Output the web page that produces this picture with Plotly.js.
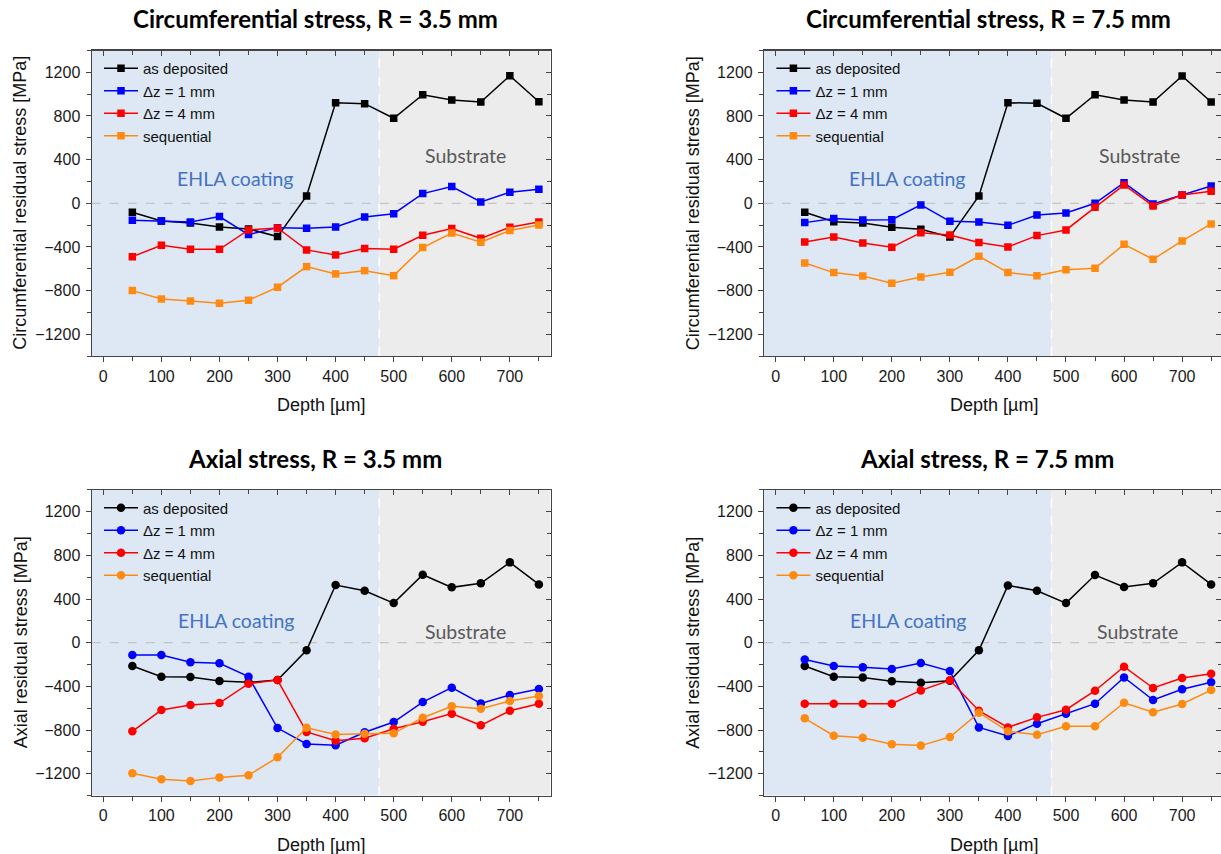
<!DOCTYPE html>
<html>
<head>
<meta charset="utf-8">
<script src="https://cdn.plot.ly/plotly-3.0.1.min.js"></script>
<style>html,body{margin:0;padding:0;background:#fff;}#chart{width:1221px;height:854px;}</style>
</head>
<body>
<div id="chart"></div>
<script>
// ---- data ----
const depth = [50,100,150,200,250,300,350,400,450,500,550,600,650,700,750];
const seriesNames = ['as deposited','\u0394z = 1 mm','\u0394z = 4 mm','sequential'];
const seriesColors = ['#000000','#0000ff','#ff0000','#ff8a12'];

const circ35_asdep = [-82,-162,-180,-217,-235,-305,67,922,913,779,995,947,928,1169,931];
const circ35_dz1   = [-156,-162,-171,-122,-287,-223,-229,-217,-125,-95,89,153,12,101,128];
const circ35_dz4   = [-489,-385,-421,-421,-244,-226,-427,-473,-415,-421,-293,-232,-321,-220,-171];
const circ35_seq   = [-800,-876,-895,-916,-888,-769,-580,-647,-617,-663,-406,-272,-357,-250,-198];

const circ75_asdep = [-82,-168,-180,-220,-238,-308,67,922,916,779,995,947,928,1166,928];
const circ75_dz1   = [-177,-140,-153,-150,-15,-165,-171,-202,-107,-89,0,189,-6,76,159];
const circ75_dz4   = [-354,-308,-363,-403,-269,-290,-360,-400,-296,-244,-37,168,-24,76,110];
const circ75_seq   = [-547,-635,-666,-733,-675,-632,-485,-635,-663,-608,-595,-376,-513,-345,-189];

const ax35_asdep = [-214,-311,-315,-351,-363,-342,-70,528,476,363,623,507,544,736,534];
const ax35_dz1   = [-113,-113,-180,-189,-311,-782,-928,-940,-821,-727,-544,-412,-556,-479,-424];
const ax35_dz4   = [-812,-617,-571,-553,-376,-342,-818,-898,-876,-788,-724,-650,-757,-623,-559];
const ax35_seq   = [-1197,-1252,-1267,-1234,-1215,-1050,-779,-840,-834,-830,-687,-583,-605,-534,-489];

const ax75_asdep = [-214,-311,-318,-354,-366,-348,-70,525,476,363,620,510,544,736,534];
const ax75_dz1   = [-153,-214,-226,-241,-186,-260,-776,-855,-742,-650,-559,-318,-525,-427,-363];
const ax75_dz4   = [-559,-559,-559,-559,-437,-345,-623,-776,-684,-614,-440,-220,-415,-324,-284];
const ax75_seq   = [-693,-852,-870,-931,-943,-864,-641,-812,-843,-766,-766,-550,-638,-562,-434];

const panelTitles = ['Circumferential stress, R = 3.5 mm','Circumferential stress, R = 7.5 mm',
                     'Axial stress, R = 3.5 mm','Axial stress, R = 7.5 mm'];
const yTitles = ['Circumferential residual stress [MPa]','Circumferential residual stress [MPa]',
                 'Axial residual stress [MPa]','Axial residual stress [MPa]'];
const xTitle = 'Depth [\u00b5m]';
const regionLabels = ['EHLA coating','Substrate'];
const coatingDepth = 475;

const panelData = [
  [circ35_asdep, circ35_dz1, circ35_dz4, circ35_seq],
  [circ75_asdep, circ75_dz1, circ75_dz4, circ75_seq],
  [ax35_asdep, ax35_dz1, ax35_dz4, ax35_seq],
  [ax75_asdep, ax75_dz1, ax75_dz4, ax75_seq]
];
const markerSymbols = ['square','square','circle','circle'];

// ---- layout geometry (pixels of 1221x854) ----
const W = 1221, H = 854;
const xRanges = [[-20,770],[-20,767],[-20,770],[-20,767]];
const yRange = [-1400,1400];
const domX = [[91.7/W, 550.5/W],[764.1/W, 1],[91.7/W, 550.5/W],[764.1/W, 1]];
const domY = [[1-356.1/H, 1-50.5/H],[1-356.1/H, 1-50.5/H],[1-795.5/H, 1-489.9/H],[1-795.5/H, 1-489.9/H]];
const titlePos = [[316,18.5],[988,18.5],[315,458],[987,458]];
const yTitleX = [20.5,693,20.5,693];
const plotCenterY = [203.3,203.3,642.7,642.7];
const xTitlePos = [[321,405],[993.5,405],[321,844.5],[993.5,844.5]];
const legendPos = [[99,52],[771.4,52],[99,491.5],[771.4,491.5]];
const labelPos = [
  [[227,223],[623,436]],
  [[227,223],[626,436]],
  [[229,201],[623,101]],
  [[229,201],[623,101]]
];

const sansFont = 'Liberation Sans, Arial, Helvetica, sans-serif';
const titleFont = 'Lato, Calibri, Carlito, sans-serif';
const axisCol = '#444444';

const traces = [];
const layout = {
  width: W, height: H,
  margin: {l:0, r:0, t:0, b:0},
  paper_bgcolor: '#ffffff',
  plot_bgcolor: 'rgba(0,0,0,0)',
  showlegend: true,
  shapes: [], annotations: []
};

for (let p = 0; p < 4; p++) {
  const s = p === 0 ? '' : String(p+1);
  const xa = 'x' + s, ya = 'y' + s;
  const legendId = p === 0 ? 'legend' : 'legend' + (p+1);
  for (let k = 0; k < 4; k++) {
    traces.push({
      type: 'scatter', mode: 'lines+markers',
      x: depth, y: panelData[p][k],
      name: seriesNames[k], xaxis: xa, yaxis: ya, legend: legendId,
      line: {color: seriesColors[k], width: 1.5},
      marker: {symbol: markerSymbols[p], size: markerSymbols[p]==='square' ? 7.5 : 8.5, color: seriesColors[k]}
    });
  }
  // overlay axes for inward mirror ticks
  const ox = 'x' + (p+5), oy = 'y' + (p+5);
  traces.push({type:'scatter', mode:'markers', x:[], y:[], xaxis: ox, yaxis: oy, showlegend:false, hoverinfo:'skip'});

  const axBase = {
    showline: true, mirror: true, linecolor: axisCol, linewidth: 1.2,
    ticks: 'outside', ticklen: 5, tickwidth: 1, tickcolor: axisCol,
    showgrid: false, zeroline: false,
    tickfont: {family: sansFont, size: 16, color: '#1a1a1a'}
  };
  layout['xaxis' + s] = Object.assign({}, axBase, {
    domain: domX[p], anchor: ya, range: xRanges[p], tick0: 0, dtick: 100,
    minor: {dtick: 50, ticks: 'outside', ticklen: 4, tickcolor: axisCol}
  });
  layout['yaxis' + s] = Object.assign({}, axBase, {
    domain: domY[p], anchor: xa, range: yRange, tick0: 0, dtick: 400,
    minor: {dtick: 200, ticks: 'outside', ticklen: 3.5, tickcolor: axisCol},
    ticklabelstandoff: 2
  });
  layout['xaxis' + (p+5)] = {
    overlaying: xa, anchor: ya, side: 'top', range: xRanges[p], tick0: 0, dtick: 100,
    ticks: 'inside', ticklen: 5, tickcolor: axisCol, showticklabels: false,
    showline: false, showgrid: false, zeroline: false,
    minor: {dtick: 50, ticks: 'inside', ticklen: 4, tickcolor: axisCol}
  };
  layout['yaxis' + (p+5)] = {
    overlaying: ya, anchor: xa, side: 'right', range: yRange, tick0: 0, dtick: 400,
    ticks: 'inside', ticklen: 5, tickcolor: axisCol, showticklabels: false,
    showline: false, showgrid: false, zeroline: false,
    minor: {dtick: 200, ticks: 'inside', ticklen: 3.5, tickcolor: axisCol}
  };

  // background regions
  layout.shapes.push({type:'rect', xref: xa, yref: ya + ' domain', x0: xRanges[p][0], x1: coatingDepth, y0: 0, y1: 1,
    fillcolor: '#dde8f4', line: {width: 0}, layer: 'below'});
  layout.shapes.push({type:'rect', xref: xa, yref: ya + ' domain', x0: coatingDepth, x1: xRanges[p][1], y0: 0, y1: 1,
    fillcolor: '#ececec', line: {width: 0}, layer: 'below'});
  layout.shapes.push({type:'line', xref: xa, yref: ya + ' domain', x0: coatingDepth, x1: coatingDepth, y0: 0, y1: 1,
    line: {color: '#ffffff', width: 1.5, dash: 'dash'}, layer: 'below'});
  layout.shapes.push({type:'line', xref: xa + ' domain', yref: ya, x0: 0, x1: 1, y0: 0, y1: 0,
    line: {color: '#c4c4c4', width: 1.2, dash: 'dash'}, layer: 'below'});

  // legends
  layout[legendId] = {
    x: legendPos[p][0]/W, y: 1 - legendPos[p][1]/H, xanchor: 'left', yanchor: 'top',
    bgcolor: 'rgba(0,0,0,0)', borderwidth: 0, itemwidth: 34,
    font: {family: sansFont, size: 15, color: '#111'},
    tracegroupgap: 0
  };

  // titles & labels
  layout.annotations.push({xref:'paper', yref:'paper', x: titlePos[p][0]/W, y: 1 - titlePos[p][1]/H,
    xanchor:'center', yanchor:'middle', showarrow:false, text: '<b>' + panelTitles[p] + '</b>',
    font:{family: titleFont, size: 24, color:'#000'}});
  layout.annotations.push({xref:'paper', yref:'paper', x: yTitleX[p]/W, y: 1 - plotCenterY[p]/H,
    xanchor:'center', yanchor:'middle', showarrow:false, textangle: -90, text: yTitles[p],
    font:{family: sansFont, size: 18, color:'#111'}});
  layout.annotations.push({xref:'paper', yref:'paper', x: xTitlePos[p][0]/W, y: 1 - xTitlePos[p][1]/H,
    xanchor:'center', yanchor:'middle', showarrow:false, text: xTitle,
    font:{family: sansFont, size: 18, color:'#111'}});
  layout.annotations.push({xref: xa, yref: ya, x: labelPos[p][0][0], y: labelPos[p][0][1],
    xanchor:'center', yanchor:'middle', showarrow:false, text: regionLabels[0],
    font:{family: titleFont, size: 19.5, color:'#4472c4'}});
  layout.annotations.push({xref: xa, yref: ya, x: labelPos[p][1][0], y: labelPos[p][1][1],
    xanchor:'center', yanchor:'middle', showarrow:false, text: regionLabels[1],
    font:{family: titleFont, size: 19.5, color:'#595959'}});
}

Plotly.newPlot('chart', traces, layout, {displayModeBar: false, staticPlot: true});
</script>
</body>
</html>
